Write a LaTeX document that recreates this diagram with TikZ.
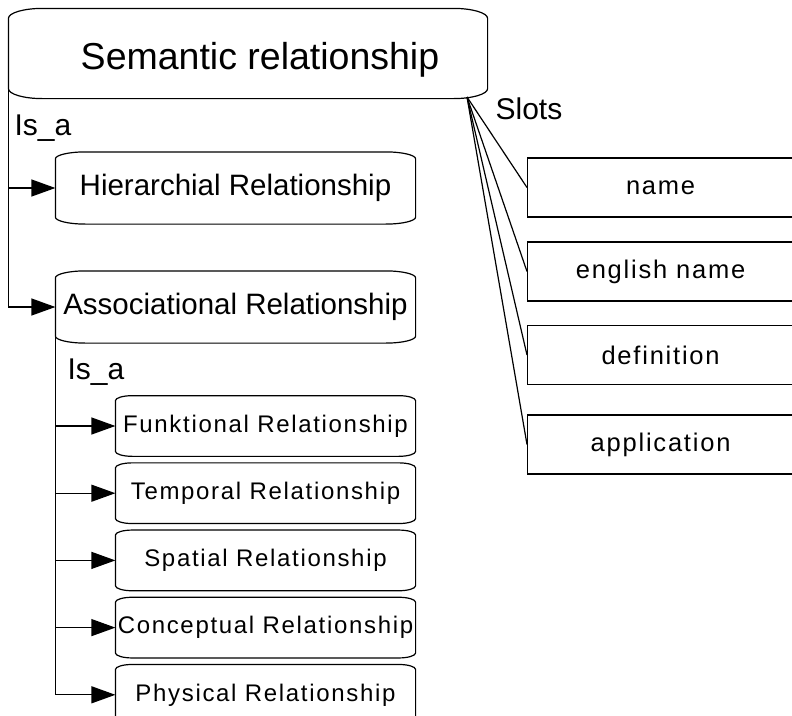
\documentclass[tikz,border=0pt]{standalone}
\usepackage{fontspec}
\setmainfont{Liberation Sans}
\newfontfamily\spacedFont[LetterSpace=7]{Liberation Sans}
\usetikzlibrary{positioning, arrows.meta}
\newcommand{\subGap}{6.5pt}
\tikzstyle{topRelation}=[minimum width=478pt, minimum height=89pt, inner sep=0pt, font=\fontsize{37.5}{40}\selectfont]
\tikzstyle{relation}=[minimum width=359pt, minimum height=71pt, inner sep=0pt, font=\fontsize{29.5}{32}\selectfont]
\tikzstyle{subRelation}=[minimum width=299pt, minimum height=59.5pt, inner sep=0pt, font=\spacedFont\fontsize{24}{28}\selectfont]
\tikzstyle{slot}=[draw, anchor=west, minimum width=266pt, minimum height=59pt, inner sep=0pt, font=\spacedFont\fontsize{25.5}{28}\selectfont]
\tikzstyle{tag}=[anchor=base west, inner sep=0pt, font=\fontsize{30}{32}\selectfont]
\tikzstyle{arrow}=[-{Triangle[length=24pt, width=17pt]}]
\newcommand\relFrame{}
\def\relFrame(#1,#2,#3){%
  \draw ([yshift=-#3]#1.north west) arc[start angle=180, end angle=90, x radius=#2, y radius=#3]
    -- ([xshift=-#2]#1.north east) arc[start angle=90, end angle=0, x radius=#2, y radius=#3]
    -- ([yshift=#3]#1.south east) arc[start angle=0, end angle=-90, x radius=#2, y radius=#3]
    -- ([xshift=#2]#1.south west) arc[start angle=270, end angle=180, x radius=#2, y radius=#3]
    -- cycle;
}

\begin{document}
\begin{tikzpicture}[x=1pt, y=-1pt, line width=1.2pt]
    \useasboundingbox (0,0) rectangle (792,715);
    \clip (0,0) rectangle (792,715);
    % relationship tree
    \node[topRelation] (sem) at (248,53.5) {\hspace*{24pt}\rule[-8pt]{0pt}{48pt}Semantic relationship};
    \node[relation] (hier) at (235.5,188) {Hierarchial Relationship};
    \node[relation] (assoc) at (235.5,307) {Associational Relationship};
    \node[subRelation] (funk) at (265.5,426) {Funktional Relationship};
    \node[subRelation, below=\subGap of funk] (temp) {Temporal Relationship};
    \node[subRelation, below=\subGap of temp] (spat) {Spatial Relationship};
    \node[subRelation, below=\subGap of spat] (conc) {Conceptual Relationship};
    \node[subRelation, below=\subGap of conc] (phys) {Physical Relationship};
    \relFrame(sem,34pt,10pt);
    \foreach \n in {hier,assoc}
      \relFrame(\n,30pt,7pt);
    \foreach \n in {funk,temp,spat,conc,phys}
      \relFrame(\n,17pt,5pt);
    \node[tag] (isaTop) at (14,135) {Is\_a};
    \node[tag] (isaSub) at (67,379) {Is\_a};
    \draw[arrow] (sem.west) |- (hier.west);
    \draw[arrow] (sem.west) |- (assoc.west);
    \foreach \n in {funk,temp,spat,conc,phys}
      \draw[arrow] (assoc.west) |- (\n.west);
    % slots
    \node[tag] (slotsTag) at (495,119) {Slots};
    \node[slot] (name) at (527,187.5) {name};
    \node[slot] (ename) at (527,271.5) {english name};
    \node[slot] (defn) at (527,355) {definition};
    \node[slot] (appl) at (527,444.5) {application};
    \coordinate (slotSrc) at (467,97);
    \foreach \s in {name,ename,defn,appl}
      \draw (slotSrc) -- (\s.west);
\end{tikzpicture}
\end{document}
